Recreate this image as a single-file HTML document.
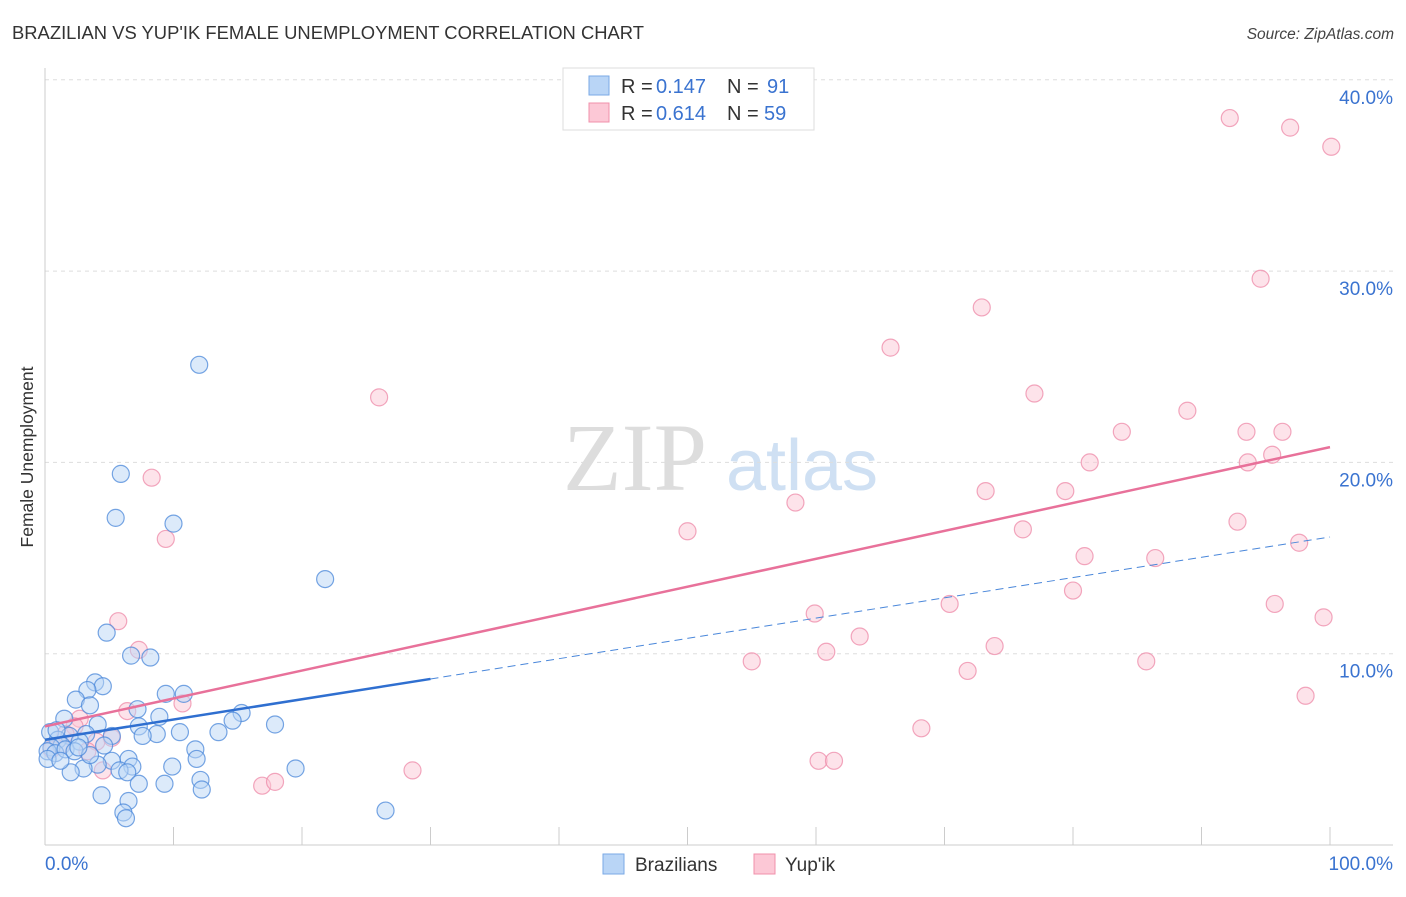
<!DOCTYPE html>
<html><head><meta charset="utf-8"><style>
body{margin:0;background:#fff;font-family:"Liberation Sans",sans-serif}
</style></head><body>
<svg id="chart" width="1406" height="892" xmlns="http://www.w3.org/2000/svg">
<text x="12" y="39" font-size="18.5" fill="#333" textLength="632" lengthAdjust="spacingAndGlyphs">BRAZILIAN VS YUP'IK FEMALE UNEMPLOYMENT CORRELATION CHART</text>
<text x="1394" y="39" font-size="15.5" fill="#444" text-anchor="end" font-style="italic">Source: ZipAtlas.com</text>
<text transform="translate(33,457) rotate(-90)" font-size="17.5" fill="#333" text-anchor="middle">Female Unemployment</text>
<g>
<text x="635" y="490" font-size="96" fill="#ddd" font-family="Liberation Serif,serif" text-anchor="middle">ZIP</text>
<text x="802" y="490" font-size="72" fill="#cfe0f3" text-anchor="middle">atlas</text>
</g>
<g id="grid"></g><g id="axes"></g><g id="pts"></g><g id="lines"></g>
<g>
<rect x="563" y="68" width="251" height="62" fill="#fff" stroke="#ddd"/>
<rect x="589" y="76" width="20" height="19" fill="#b9d5f6" stroke="#7aa9e6"/>
<rect x="589" y="103" width="20" height="19" fill="#fcc8d6" stroke="#f090ab"/>
<text x="621" y="93" font-size="20" fill="#333">R =</text><text x="656" y="93" font-size="20" fill="#3a73d0">0.147</text>
<text x="727" y="93" font-size="20" fill="#333">N =</text><text x="767" y="93" font-size="20" fill="#3a73d0">91</text>
<text x="621" y="120" font-size="20" fill="#333">R =</text><text x="656" y="120" font-size="20" fill="#3a73d0">0.614</text>
<text x="727" y="120" font-size="20" fill="#333">N =</text><text x="764" y="120" font-size="20" fill="#3a73d0">59</text>
</g>
<g>
<rect x="603" y="854" width="21" height="20" fill="#b9d5f6" stroke="#7aa9e6"/>
<text x="635" y="871" font-size="19" fill="#333">Brazilians</text>
<rect x="754" y="854" width="21" height="20" fill="#fcc8d6" stroke="#f090ab"/>
<text x="785" y="871" font-size="19" fill="#333">Yup'ik</text>
</g>
</svg>
<script>
const yTicks=[10,20,30,40];
const yTickLabels=["10.0%","20.0%","30.0%","40.0%"];
const xTickLabels=["0.0%","100.0%"];
const blueX=[12.0,5.9,5.5,10.0,21.8,4.8,6.7,8.2,3.9,4.5,3.3,2.4,3.5,9.4,10.8,7.2,15.3,14.6,8.9,1.5,4.1,7.3,17.9,10.5,13.5,8.7,7.6,3.2,5.2,0.4,1.9,1.0,2.7,1.3,0.5,0.2,0.8,1.6,2.3,11.7,11.8,6.5,5.2,4.1,6.8,9.9,19.5,3.0,5.8,6.4,2.0,12.1,7.3,9.3,12.2,4.4,6.5,26.5,6.1,6.3,0.2,1.2,3.5,4.6,2.6,0.9];
const blueY=[25.1,19.4,17.1,16.8,13.9,11.1,9.9,9.8,8.5,8.3,8.1,7.6,7.3,7.9,7.9,7.1,6.9,6.5,6.7,6.6,6.3,6.2,6.3,5.9,5.9,5.8,5.7,5.8,5.7,5.9,5.7,5.5,5.4,5.2,5.1,4.9,4.8,5.0,4.9,5.0,4.5,4.5,4.4,4.2,4.1,4.1,4.0,4.0,3.9,3.8,3.8,3.4,3.2,3.2,2.9,2.6,2.3,1.8,1.7,1.4,4.5,4.4,4.7,5.2,5.1,6.0];
const pinkX=[92.2,96.9,100.1,94.6,72.9,65.8,26.0,77.0,88.9,83.8,93.5,96.3,95.5,93.6,81.3,8.3,73.2,79.4,58.4,92.8,50.0,76.1,9.4,97.6,80.9,86.4,80.0,70.4,95.7,59.9,99.5,5.7,63.4,7.3,60.8,73.9,55.0,85.7,71.8,98.1,10.7,6.4,68.2,2.7,2.3,5.2,4.0,1.2,0.5,3.3,60.2,61.4,28.6,16.9,17.9,4.5,1.6];
const pinkY=[38.0,37.5,36.5,29.6,28.1,26.0,23.4,23.6,22.7,21.6,21.6,21.6,20.4,20.0,20.0,19.2,18.5,18.5,17.9,16.9,16.4,16.5,16.0,15.8,15.1,15.0,13.3,12.6,12.6,12.1,11.9,11.7,10.9,10.2,10.1,10.4,9.6,9.6,9.1,7.8,7.4,7.0,6.1,6.6,6.2,5.6,5.4,5.2,5.0,4.9,4.4,4.4,3.9,3.1,3.3,3.9,5.8];
const blueFit=[5.5,0.0106];
const pinkFit=[6.2,0.146];
const X=v=>45+v*12.85, Y=v=>845-v*19.13;
const NS="http://www.w3.org/2000/svg";
function mk(p,t,a){const e=document.createElementNS(NS,t);for(const k in a)e.setAttribute(k,a[k]);p.appendChild(e);return e;}
const grid=document.getElementById('grid'),axes=document.getElementById('axes'),pts=document.getElementById('pts'),lines=document.getElementById('lines');
yTicks.forEach((t,i)=>{
 const g=mk(grid,'line',{x1:45,x2:1393,y1:Y(t),y2:Y(t),stroke:'#ddd','stroke-dasharray':'4,4'});
 
 
 const l=mk(axes,'text',{x:1393,y:Y(t)+24,'font-size':19,fill:'#3a73d0','text-anchor':'end'});
 l.textContent=yTickLabels[i];
 
 
});
const ax=mk(axes,'line',{x1:45,x2:45,y1:68,y2:845,stroke:'#ccc'});


const bx=mk(axes,'line',{x1:45,x2:1393,y1:845,y2:845,stroke:'#ccc'});


for(let i=0;i<=10;i++){const t=mk(axes,'line',{x1:X(i*10),x2:X(i*10),y1:827,y2:845,stroke:'#ccc'});
 
 }
[[0,'start',45],[100,'end',1393]].forEach((d,i)=>{const l=mk(axes,'text',{x:d[2],y:870,'font-size':19,fill:'#3a73d0','text-anchor':d[1]});l.textContent=xTickLabels[i];
 
 });
function dots(xs,ys,fill,stroke,name){xs.forEach((x,i)=>{const c=mk(pts,'circle',{cx:X(x),cy:Y(ys[i]),r:8.5,fill:fill,'fill-opacity':0.5,stroke:stroke,'stroke-width':1.2,'stroke-opacity':0.75});
 
 });}
dots(pinkX,pinkY,'#fcc8d6','#ee8aa8','yupik-point');
dots(blueX,blueY,'#b9d5f6','#4a87da','brazilian-point');
const f=(fit,x)=>fit[0]+fit[1]*x*10;
const pl=mk(lines,'line',{x1:X(0),y1:Y(f(pinkFit,0)),x2:X(100),y2:Y(f(pinkFit,10)),stroke:'#e8719a','stroke-width':2.5});


const bl=mk(lines,'line',{x1:X(0),y1:Y(blueFit[0]),x2:X(30),y2:Y(blueFit[0]+blueFit[1]*300),stroke:'#2f6fd0','stroke-width':2.5});


const bd=mk(lines,'line',{x1:X(30),y1:Y(blueFit[0]+blueFit[1]*300),x2:X(100),y2:Y(blueFit[0]+blueFit[1]*1000),stroke:'#4a87da','stroke-width':1,'stroke-dasharray':'8,5'});


</script>
</body></html>
